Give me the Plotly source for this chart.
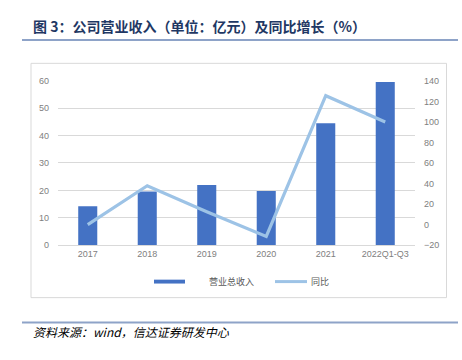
import plotly.graph_objects as go

categories = ["2017", "2018", "2019", "2020", "2021", "2022Q1-Q3"]
revenue = [14.2, 19.6, 22.0, 19.8, 44.5, 59.6]
yoy = [0.0, 37.8, 12.5, -11.5, 125.5, 100.0]
left_ticks = [0, 10, 20, 30, 40, 50, 60]
right_ticks = [-20, 0, 20, 40, 60, 80, 100, 120, 140]

W, H = 462, 360
def px(x):
    return x / W
def py(y):
    return 1 - y / H

BAR = "#4472C4"
LINE = "#9DC3E6"
GRAY = "#808080"
TF = "Liberation Sans, Arial, sans-serif"
CJK = "Noto Sans CJK SC, sans-serif"

fig = go.Figure()
fig.add_trace(go.Bar(x=categories, y=revenue, name="营业总收入", marker_color=BAR,
                     marker_line_width=0, yaxis="y"))
fig.add_trace(go.Scatter(x=categories, y=yoy, name="同比", mode="lines",
                         line=dict(color=LINE, width=3.2), yaxis="y2"))

fig.update_layout(
    width=W, height=H,
    margin=dict(l=0, r=0, t=0, b=0),
    paper_bgcolor="white", plot_bgcolor="white",
    showlegend=False,
    bargap=0.68,
    xaxis=dict(domain=[px(58), px(415)], tickfont=dict(family=TF, size=9, color=GRAY),
               showline=True, linecolor="#d9d9d9", linewidth=1, ticks="",
               showgrid=False, anchor="y"),
    yaxis=dict(domain=[py(247), py(78)], range=[0, 60], tickvals=left_ticks,
               tickfont=dict(family=TF, size=9, color=GRAY), showgrid=True,
               gridcolor="#d9d9d9", gridwidth=1, zeroline=False, ticks="",
               ticklabelstandoff=8),
    yaxis2=dict(overlaying="y", side="right", range=[-20, 140], tickvals=right_ticks,
                tickfont=dict(family=TF, size=9, color=GRAY), showgrid=False,
                zeroline=False, ticks="", ticklabelstandoff=8),
)

shapes = [
    dict(type="line", xref="paper", yref="paper", x0=px(22), x1=px(458), y0=py(36), y1=py(36),
         line=dict(color="#8EA3C8", width=2)),
    dict(type="line", xref="paper", yref="paper", x0=px(22), x1=px(458), y0=py(326.5), y1=py(326.5),
         line=dict(color="#8EA3C8", width=2)),
    dict(type="rect", xref="paper", yref="paper", x0=px(31), x1=px(446.5), y0=py(301), y1=py(60),
         line=dict(color="#d9d9d9", width=1), fillcolor="rgba(0,0,0,0)", layer="below"),
    dict(type="rect", xref="paper", yref="paper", x0=px(154), x1=px(185), y0=py(286.5), y1=py(282.5),
         line=dict(width=0), fillcolor=BAR),
    dict(type="line", xref="paper", yref="paper", x0=px(275), x1=px(307), y0=py(284.5), y1=py(284.5),
         line=dict(color=LINE, width=3)),
]
fig.update_layout(shapes=shapes)

annotations = [
    dict(text="<b>图 3：公司营业收入（单位：亿元）及同比增长（%）</b>", xref="paper", yref="paper",
         x=px(31), y=py(21.5), xanchor="left", yanchor="middle", showarrow=False,
         font=dict(family=CJK, size=14, color="#1F3864")),
    dict(text="<i>资料来源：wind，信达证券研发中心</i>", xref="paper", yref="paper",
         x=px(31), y=py(335.5), xanchor="left", yanchor="middle", showarrow=False,
         font=dict(family=CJK, size=12, color="#000000")),
    dict(text="营业总收入", xref="paper", yref="paper", x=px(207), y=py(284.5),
         xanchor="left", yanchor="middle", showarrow=False,
         font=dict(family=CJK, size=9, color="#595959")),
    dict(text="同比", xref="paper", yref="paper", x=px(309), y=py(284.5),
         xanchor="left", yanchor="middle", showarrow=False,
         font=dict(family=CJK, size=9, color="#595959")),
]
fig.update_layout(annotations=annotations)

fig.write_html("out.html", config={"displayModeBar": False},
               post_script="document.body.style.margin='0';document.body.style.overflow='hidden';")
